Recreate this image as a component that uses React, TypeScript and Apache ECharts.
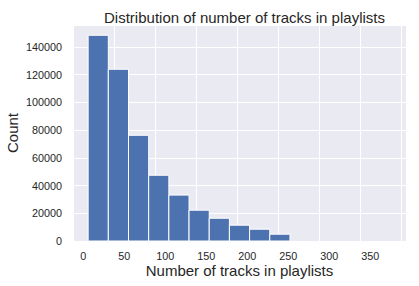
import React, { useEffect, useRef } from "react";
import * as echarts from "echarts";

// Histogram of number of tracks per playlist (15 bins from 6 to 375)
const binStarts = [6, 30.6, 55.2, 79.8, 104.4, 129, 153.6, 178.2, 202.8, 227.4, 252, 276.6, 301.2, 325.8, 350.4];
const binEnds = [30.6, 55.2, 79.8, 104.4, 129, 153.6, 178.2, 202.8, 227.4, 252, 276.6, 301.2, 325.8, 350.4, 375];
const counts = [148300, 123800, 76200, 47400, 33100, 22200, 16400, 11400, 8500, 4900, 0, 0, 0, 0, 0];
const xTicks = [0, 50, 100, 150, 200, 250, 300, 350];
const yTicks = [0, 20000, 40000, 60000, 80000, 100000, 120000, 140000];

const FONT = "'Liberation Sans', Arial, 'DejaVu Sans', sans-serif";
const TXT = "#262626";

export default function App() {
  const ref = useRef<HTMLDivElement>(null);
  useEffect(() => {
    if (!ref.current) return;
    const chart = echarts.init(ref.current, undefined, { renderer: "svg" });
    const data = binStarts.map((s, i) => [s, binEnds[i], counts[i]]);
    chart.setOption({
      animation: false,
      backgroundColor: "#ffffff",
      title: {
        text: "Distribution of number of tracks in playlists",
        left: 239.5,
        textAlign: "center",
        top: 5,
        textStyle: { fontFamily: FONT, fontSize: 15, fontWeight: "normal", color: TXT },
      },
      grid: {
        left: 73,
        right: 13,
        top: 25,
        bottom: 45,
        containLabel: false,
        outerBoundsMode: "none",
        show: true,
        backgroundColor: "#EAEAF2",
        borderWidth: 0,
      },
      xAxis: {
        type: "value",
        min: -12.45,
        max: 393.45,
        interval: 50,
        name: "Number of tracks in playlists",
        nameLocation: "middle",
        nameGap: 22,
        nameMoveOverlap: false,
        nameTextStyle: { fontFamily: FONT, fontSize: 15, color: TXT },
        axisLine: { show: false },
        axisTick: { show: false },
        axisLabel: {
          margin: 9,
          fontFamily: FONT,
          fontSize: 10.8,
          color: TXT,
          customValues: xTicks,
          formatter: (v: number) => String(v),
        },
        splitLine: { show: true, lineStyle: { color: "#ffffff", width: 1 } },
      },
      yAxis: {
        type: "value",
        min: 0,
        max: 155700,
        interval: 20000,
        name: "Count",
        nameLocation: "middle",
        nameGap: 53,
        nameMoveOverlap: false,
        nameTextStyle: { fontFamily: FONT, fontSize: 15, color: TXT },
        axisLine: { show: false },
        axisTick: { show: false },
        axisLabel: {
          margin: 11,
          fontFamily: FONT,
          fontSize: 10.8,
          color: TXT,
          customValues: yTicks,
          formatter: (v: number) => String(v),
        },
        splitLine: { show: true, lineStyle: { color: "#ffffff", width: 1 } },
      },
      series: [
        {
          type: "custom",
          data,
          encode: { x: [0, 1], y: 2 },
          renderItem: (params: any, api: any) => {
            const x0 = api.value(0);
            const x1 = api.value(1);
            const y = api.value(2);
            if (!y) return null;
            const p0 = api.coord([x0, y]);
            const p1 = api.coord([x1, 0]);
            return {
              type: "rect",
              shape: { x: p0[0], y: p0[1], width: p1[0] - p0[0], height: p1[1] - p0[1] },
              style: { fill: "#4C72B0", stroke: "#ffffff", lineWidth: 1 },
            };
          },
        },
      ],
    });
    return () => chart.dispose();
  }, []);
  return <div ref={ref} style={{ width: 419, height: 286, position: "absolute", left: 0, top: 0 }} />;
}
